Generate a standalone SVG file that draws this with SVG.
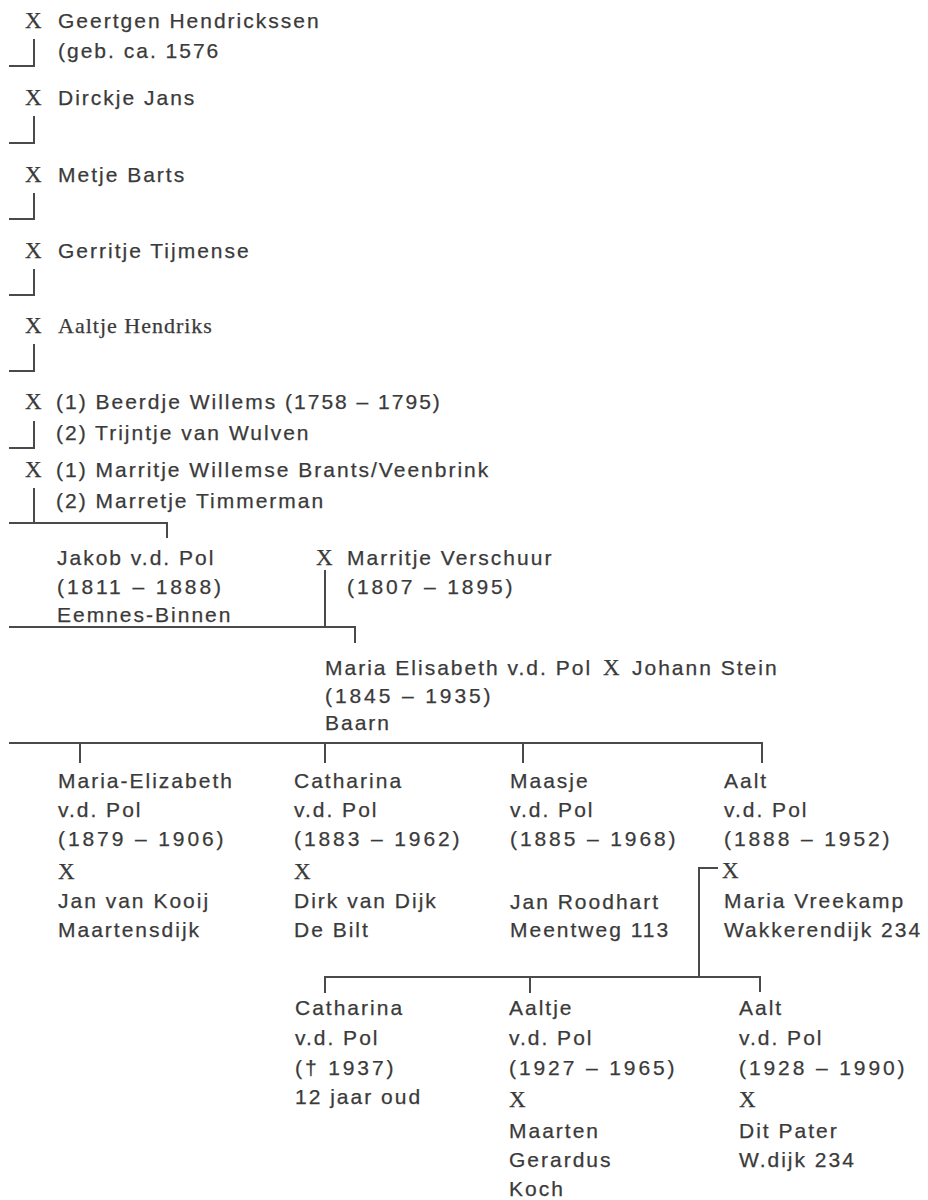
<svg xmlns="http://www.w3.org/2000/svg" width="928" height="1200" viewBox="0 0 928 1200">
<style>
.t{font-family:"Liberation Sans",Arial,sans-serif;font-size:21px;letter-spacing:2px;fill:#3a3a3a;stroke:#3a3a3a;stroke-width:0.25px}
.d{letter-spacing:2.9px}
.x{font-family:"Liberation Serif","Times New Roman",serif;font-size:23px;fill:#3a3a3a;stroke:#3a3a3a;stroke-width:0.25px}
.s{font-family:"Liberation Serif","Times New Roman",serif;font-size:22px;letter-spacing:1px;fill:#3a3a3a;stroke:#3a3a3a;stroke-width:0.25px}
.c{fill:none;stroke:#4a4a4a;stroke-width:2}
</style>
<rect width="928" height="1200" fill="#fff"/>
<g id="connectors" class="c">
<path d="M9 66H34V39"/>
<path d="M9 143H34V116"/>
<path d="M9 219H34V193"/>
<path d="M9 295H34V269"/>
<path d="M9 371H34V344"/>
<path d="M9 448H34V421"/>
<path d="M34 488V523"/>
<path d="M9 523H167V538"/>
<path d="M325 570V627"/>
<path d="M9 627H355V643"/>
<path d="M9 743H762V763"/>
<path d="M80 743V763"/>
<path d="M325 743V763"/>
<path d="M523 743V763"/>
<path d="M718 868H699V977"/>
<path d="M325 993V977H760V992"/>
<path d="M530 977V993"/>
</g>
<g id="n1"><text class="x" x="25" y="28">X</text><text class="t" x="58" y="28">Geertgen Hendrickssen</text><text class="t" x="58" y="58">(geb. ca. 1576</text></g>
<g id="n2"><text class="x" x="25" y="105">X</text><text class="t" x="58" y="105">Dirckje Jans</text></g>
<g id="n3"><text class="x" x="25" y="182">X</text><text class="t" x="58" y="182">Metje Barts</text></g>
<g id="n4"><text class="x" x="25" y="258">X</text><text class="t" x="58" y="258">Gerritje Tijmense</text></g>
<g id="n5"><text class="x" x="25" y="333">X</text><text class="s" x="58" y="333">Aaltje Hendriks</text></g>
<g id="n6"><text class="x" x="25" y="409">X</text><text class="t" x="56" y="409">(1) Beerdje Willems (1758 – 1795)</text><text class="t" x="56" y="440">(2) Trijntje van Wulven</text></g>
<g id="n7"><text class="x" x="25" y="477">X</text><text class="t" x="56" y="477">(1) Marritje Willemse Brants/Veenbrink</text><text class="t" x="56" y="508">(2) Marretje Timmerman</text></g>
<g id="jakob"><text class="t" x="57" y="565">Jakob v.d. Pol</text><text class="t d" x="57" y="594">(1811 – 1888)</text><text class="t" x="57" y="622">Eemnes-Binnen</text></g>
<g id="marritje-verschuur"><text class="x" x="316" y="565">X</text><text class="t" x="347" y="565">Marritje Verschuur</text><text class="t d" x="347" y="594">(1807 – 1895)</text></g>
<g id="maria-elisabeth"><text class="t" x="325" y="675">Maria Elisabeth v.d. Pol</text><text class="x" x="603" y="675">X</text><text class="t" x="632" y="675">Johann Stein</text><text class="t d" x="325" y="703">(1845 – 1935)</text><text class="t" x="325" y="730">Baarn</text></g>
<g id="maria-elizabeth"><text class="t" x="58" y="788">Maria-Elizabeth</text><text class="t" x="58" y="817">v.d. Pol</text><text class="t d" x="58" y="846">(1879 – 1906)</text><text class="x" x="58" y="879">X</text><text class="t" x="58" y="908">Jan van Kooij</text><text class="t" x="58" y="937">Maartensdijk</text></g>
<g id="catharina"><text class="t" x="294" y="788">Catharina</text><text class="t" x="294" y="817">v.d. Pol</text><text class="t d" x="294" y="846">(1883 – 1962)</text><text class="x" x="294" y="879">X</text><text class="t" x="294" y="908">Dirk van Dijk</text><text class="t" x="294" y="937">De Bilt</text></g>
<g id="maasje"><text class="t" x="510" y="788">Maasje</text><text class="t" x="510" y="817">v.d. Pol</text><text class="t d" x="510" y="846">(1885 – 1968)</text><text class="t" x="510" y="909">Jan Roodhart</text><text class="t" x="510" y="937">Meentweg 113</text></g>
<g id="aalt"><text class="t" x="724" y="788">Aalt</text><text class="t" x="724" y="817">v.d. Pol</text><text class="t d" x="724" y="846">(1888 – 1952)</text><text class="x" x="722" y="878">X</text><text class="t" x="724" y="908">Maria Vreekamp</text><text class="t" x="724" y="937">Wakkerendijk 234</text></g>
<g id="catharina-jr"><text class="t" x="295" y="1015">Catharina</text><text class="t" x="295" y="1045">v.d. Pol</text><text class="t d" x="295" y="1075">(† 1937)</text><text class="t" x="295" y="1104">12 jaar oud</text></g>
<g id="aaltje"><text class="t" x="509" y="1015">Aaltje</text><text class="t" x="509" y="1045">v.d. Pol</text><text class="t d" x="509" y="1075">(1927 – 1965)</text><text class="x" x="509" y="1107">X</text><text class="t" x="509" y="1138">Maarten</text><text class="t" x="509" y="1167">Gerardus</text><text class="t" x="509" y="1196">Koch</text></g>
<g id="aalt-jr"><text class="t" x="739" y="1015">Aalt</text><text class="t" x="739" y="1045">v.d. Pol</text><text class="t d" x="739" y="1075">(1928 – 1990)</text><text class="x" x="739" y="1107">X</text><text class="t" x="739" y="1138">Dit Pater</text><text class="t" x="739" y="1167">W.dijk 234</text></g>
</svg>
